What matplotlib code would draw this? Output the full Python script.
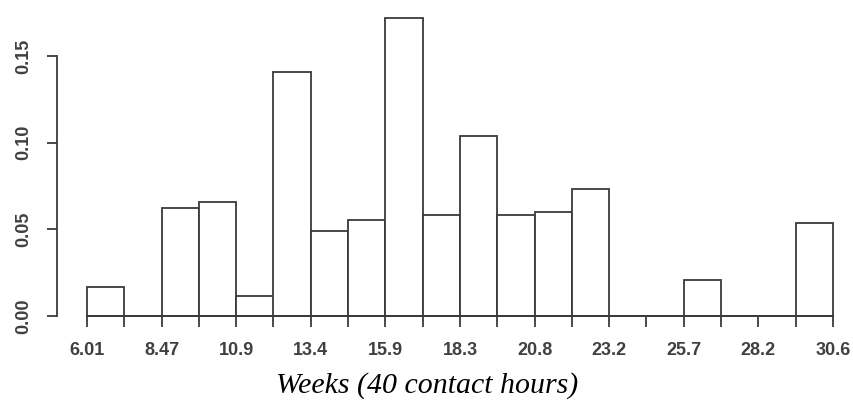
import numpy as np
import matplotlib.pyplot as plt

# Histogram of weeks (40 contact hours) - 20 bins between 6.01 and 30.6
x_min = 6.01
x_max = 30.6
n_bins = 20
density = [0.0167, 0.0, 0.0623, 0.0659, 0.0117, 0.1409, 0.0492, 0.0554, 0.1717, 0.0582,
           0.1038, 0.0582, 0.0602, 0.0732, 0.0, 0.0, 0.0208, 0.0, 0.0, 0.0535]
tick_labels = ['6.01', '8.47', '10.9', '13.4', '15.9', '18.3', '20.8', '23.2', '25.7', '28.2', '30.6']
y_ticks = [0.00, 0.05, 0.10, 0.15]

edges = np.linspace(x_min, x_max, n_bins + 1)
width = edges[1] - edges[0]
line_col = '#3a3a3a'

fig = plt.figure(figsize=(8.54, 4.0), dpi=100)
W, H = 854, 400
ax = fig.add_axes([87 / W, (H - 316) / H, (833 - 87) / W, (316 - 56) / H])

ax.bar(edges[:-1], density, width=width, align='edge', color='white',
       edgecolor=line_col, linewidth=1.3, clip_on=False)

ax.set_xlim(x_min, x_max)
ax.set_ylim(0, 0.15)

for s in ['top', 'right']:
    ax.spines[s].set_visible(False)
ax.spines['bottom'].set_position(('data', 0))
ax.spines['bottom'].set_bounds(x_min, x_max)
ax.spines['left'].set_position(('outward', 21.6))
ax.spines['left'].set_bounds(0, 0.15)
for s in ['bottom', 'left']:
    ax.spines[s].set_color(line_col)
    ax.spines[s].set_linewidth(1.3)
    ax.spines[s].set_zorder(3)

# labels only on every other tick (bin edges)
x_labels = []
for i in range(n_bins + 1):
    x_labels.append(tick_labels[i // 2] if i % 2 == 0 else '')
ax.set_xticks(edges)
ax.set_xticklabels(x_labels)
ax.set_yticks(y_ticks)
ax.set_yticklabels(['%.2f' % v for v in y_ticks], rotation=90, va='center')

ax.tick_params(axis='x', length=8, width=1.3, color=line_col, pad=11,
               labelsize=13, labelcolor='#404040')
ax.tick_params(axis='y', length=7.5, width=1.3, color=line_col, pad=10,
               labelsize=13, labelcolor='#404040')
for lab in ax.get_xticklabels() + ax.get_yticklabels():
    lab.set_family('Liberation Sans')
    lab.set_fontweight('bold')

fig.text(427 / W, 1 - 393 / H, 'Weeks (40 contact hours)', ha='center', va='baseline',
         fontsize=21.5, style='italic', family='Liberation Serif', color='black')

fig.savefig('out.png', dpi=100)
